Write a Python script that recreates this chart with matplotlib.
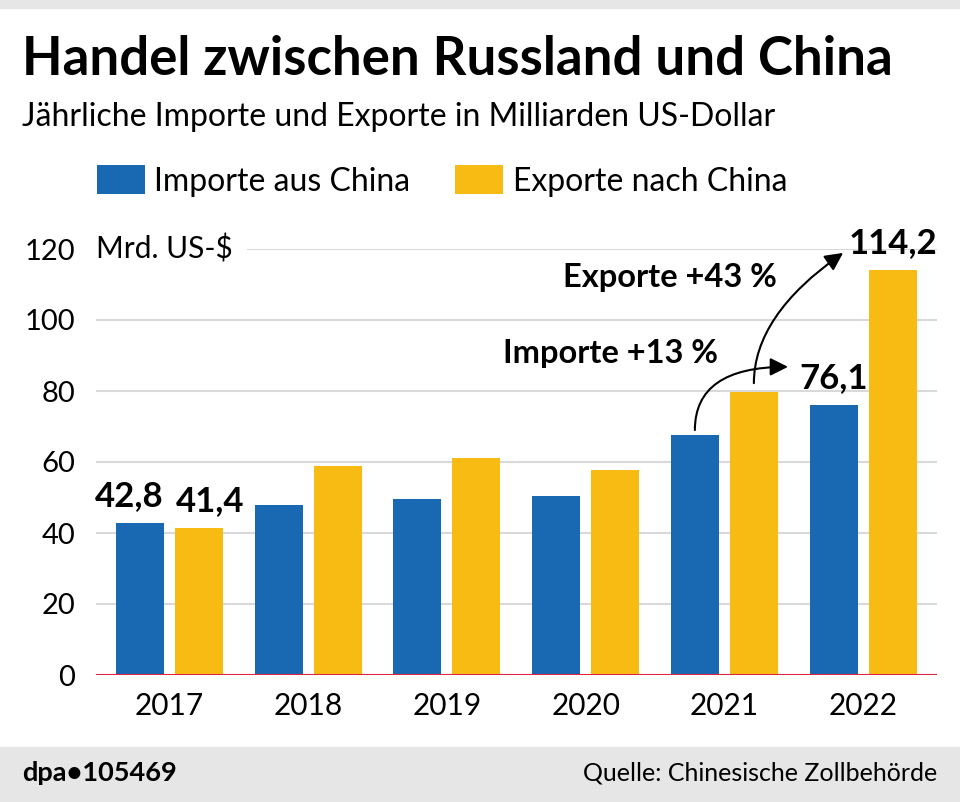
import matplotlib
matplotlib.use("Agg")
import matplotlib.pyplot as plt
from matplotlib.patches import Rectangle
import numpy as np

plt.rcParams['font.family'] = ['Lato', 'DejaVu Sans']

years = ['2017', '2018', '2019', '2020', '2021', '2022']
imports = [42.8, 48.0, 49.6, 50.4, 67.5, 76.1]
exports = [41.4, 59.0, 61.1, 57.7, 79.6, 114.2]
yticks = [0, 20, 40, 60, 80, 100, 120]

blue = '#1868b2'
yellow = '#f8bb14'
W, H = 960, 802

fig = plt.figure(figsize=(W / 100, H / 100), dpi=100)

def fx(px):
    return px / W

def fy(py):
    return 1 - py / H

# top strip and footer band
fig.patches.append(Rectangle((0, fy(8)), 1, 8 / H, transform=fig.transFigure,
                             color='#e6e6e6', zorder=0))
fig.patches.append(Rectangle((0, 0), 1, (H - 747) / H, transform=fig.transFigure,
                             color='#e6e6e6', zorder=0))

ax = fig.add_axes([fx(96), fy(675), fx(937) - fx(96), fy(249) - fy(675)])
x = np.arange(len(years))
off, w = 0.2127, 0.346
ax.bar(x - off, imports, width=w, color=blue, label='Importe aus China', zorder=3)
ax.bar(x + off, exports, width=w, color=yellow, label='Exporte nach China', zorder=3)

ax.set_xlim(-0.53, 5.533)
ax.set_ylim(0, 120)
ax.set_yticks(yticks)
ax.set_xticks(x, years)
for v in yticks[1:]:
    ax.axhline(v, color='#d9d9d9', lw=1.5, zorder=1)
ax.axhline(0, color='#e2233d', lw=1.5, zorder=4)
for s in ax.spines.values():
    s.set_visible(False)
ax.tick_params(axis='y', length=0, pad=15, labelsize=21)
ax.tick_params(axis='x', length=0, pad=12, labelsize=21.5)

ax.text(0.0, 120, 'Mrd. US-$', fontsize=21.5, va='center', ha='left',
        transform=ax.get_yaxis_transform(),
        bbox=dict(facecolor='white', edgecolor='none', pad=10), zorder=5)

def fmt(v):
    return f'{v:.1f}'.replace('.', ',')

lab = dict(fontsize=25, fontweight='bold', ha='center', va='baseline', zorder=6)
ax.text(x[0] - off - 0.08, imports[0] + 4.7, fmt(imports[0]), **lab)
ax.text(x[0] + off + 0.08, exports[0] + 4.7, fmt(exports[0]), **lab)
ax.text(x[5] - off, imports[5] + 4.7, fmt(imports[5]), **lab)
ax.text(x[5] + off, exports[5] + 4.7, fmt(exports[5]), **lab)

# growth arrows 2021 -> 2022
imp_pct = round((imports[5] / imports[4] - 1) * 100)
exp_pct = round((exports[5] / exports[4] - 1) * 100)
ax.text(3.176, 90.7, f'Importe +{imp_pct} %', fontsize=23.5, fontweight='bold',
        ha='center', va='center', zorder=6)
ax.text(3.609, 112.1, f'Exporte +{exp_pct} %', fontsize=23.5, fontweight='bold',
        ha='center', va='center', zorder=6)
ap = dict(arrowstyle='-|>,head_length=0.6,head_width=0.3', mutation_scale=18,
          color='black', lw=1.5, shrinkA=0, shrinkB=0)
ax.annotate('', xy=(4.459, 86.8), xytext=(x[4] - off, imports[4] + 1.5),
            arrowprops=dict(connectionstyle='angle3,angleA=90,angleB=0', **ap),
            annotation_clip=False)
ax.annotate('', xy=(4.856, 118.9), xytext=(x[4] + off, exports[4] + 2.6),
            arrowprops=dict(connectionstyle='angle3,angleA=90,angleB=35', **ap),
            annotation_clip=False)

fig.legend(loc='center left', bbox_to_anchor=(fx(97), fy(181)), ncol=2,
           frameon=False, fontsize=23, handlelength=1.5, handleheight=1.0,
           handletextpad=0.3, columnspacing=1.4, borderpad=0, borderaxespad=0)

fig.text(fx(22), fy(75), 'Handel zwischen Russland und China', fontsize=38,
         fontweight='bold', ha='left', va='baseline')
fig.text(fx(22), fy(126), 'Jährliche Importe und Exporte in Milliarden US-Dollar',
         fontsize=23, ha='left', va='baseline')
fig.text(fx(22), fy(773), 'dpa•105469', fontsize=19.5, fontweight='bold',
         ha='left', va='center')
fig.text(fx(937), fy(773), 'Quelle: Chinesische Zollbehörde', fontsize=18,
         ha='right', va='center')

fig.savefig('out.png', dpi=100)
